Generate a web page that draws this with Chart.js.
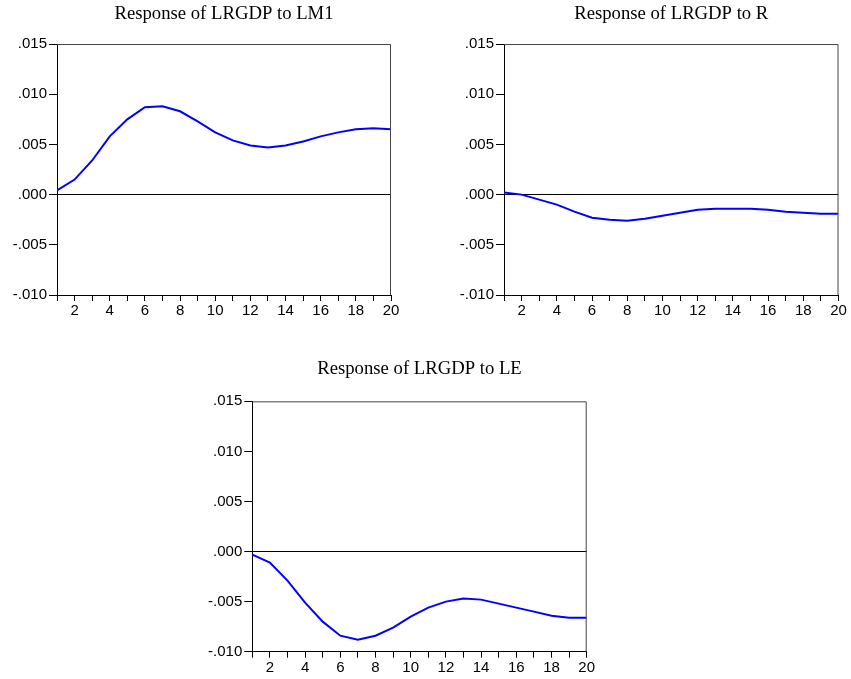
<!DOCTYPE html>
<html>
<head>
<meta charset="utf-8">
<script src="https://cdn.jsdelivr.net/npm/chart.js@4/dist/chart.umd.min.js"></script>
<style>
  body { margin: 0; background: #fff; width: 851px; height: 679px; position: relative; overflow: hidden; }
  canvas { position: absolute; }
</style>
</head>
<body>
<canvas id="c1" width="420" height="320" style="left:0;top:0"></canvas>
<canvas id="c2" width="411" height="320" style="left:440px;top:0"></canvas>
<canvas id="c3" width="420" height="329" style="left:190px;top:350px"></canvas>
<script>
const periods = [1,2,3,4,5,6,7,8,9,10,11,12,13,14,15,16,17,18,19,20];

const respLM1 = [0.00043,0.0015,0.0034,0.0058,0.0075,0.0087,0.0088,0.0083,0.0073,0.0062,
                 0.0054,0.0049,0.0047,0.0049,0.0053,0.0058,0.0062,0.0065,0.0066,0.0065];
const respR = [0.0002,0.0,-0.0005,-0.0010,-0.0017,-0.0023,-0.0025,-0.0026,-0.0024,-0.0021,
               -0.0018,-0.0015,-0.0014,-0.0014,-0.0014,-0.0015,-0.0017,-0.0018,-0.0019,-0.0019];
const respLE = [-0.0003,-0.0011,-0.0029,-0.0051,-0.0070,-0.0084,-0.0088,-0.0084,-0.0076,-0.0065,
                -0.0056,-0.0050,-0.0047,-0.0048,-0.0052,-0.0056,-0.0060,-0.0064,-0.0066,-0.0066];

const titles = ["Response of LRGDP to LM1", "Response of LRGDP to R", "Response of LRGDP to LE"];

// box around the plot area (top and right sides)
const framePlugin = {
  id: "frame",
  afterDraw(chart) {
    const { ctx, chartArea: a } = chart;
    ctx.save();
    ctx.strokeStyle = "#444";
    ctx.lineWidth = 1;
    ctx.beginPath();
    ctx.moveTo(a.left, a.top + 0.5);
    ctx.lineTo(a.right - 0.5, a.top + 0.5);
    ctx.lineTo(a.right - 0.5, a.bottom);
    ctx.stroke();
    ctx.restore();
  },
};

function yLabel(v) {
  if (Math.abs(v) < 1e-9) v = 0;
  return v.toFixed(3).replace("0.", ".");
}

function makeChart(id, title, values, lay) {
  return new Chart(document.getElementById(id), {
    type: "line",
    data: {
      datasets: [{
        data: periods.map((p, i) => ({ x: p, y: values[i] })),
        borderColor: "#0000ff",
        borderWidth: 2,
        pointRadius: 0,
        tension: 0,
        fill: false,
      }],
    },
    options: {
      responsive: false,
      devicePixelRatio: 1,
      animation: false,
      layout: { padding: { left: 0, right: lay.right, top: 0, bottom: 0 } },
      plugins: {
        legend: { display: false },
        tooltip: { enabled: false },
        title: {
          display: true,
          text: title,
          fullSize: false,
          color: "#000",
          font: { family: "'Liberation Serif', 'Times New Roman', serif", size: 18.7, weight: "normal", lineHeight: 1.2 },
          padding: { top: lay.titleTop, bottom: lay.titleBottom },
        },
      },
      scales: {
        x: {
          type: "linear",
          min: 1,
          max: 20,
          ticks: {
            stepSize: 1,
            autoSkip: false,
            maxRotation: 0,
            padding: 1,
            color: "#000",
            font: { family: "'Liberation Sans', Arial, sans-serif", size: 15 },
            callback: (v) => (v % 2 === 0 ? String(v) : ""),
          },
          grid: { drawOnChartArea: false, drawTicks: true, tickLength: 6, tickColor: "#000" },
          border: { display: true, color: "#000", width: 1 },
          afterFit: (s) => { s.height = lay.xHeight; },
        },
        y: {
          min: -0.010,
          max: 0.015,
          ticks: {
            stepSize: 0.005,
            padding: 2,
            color: "#000",
            font: { family: "'Liberation Sans', Arial, sans-serif", size: 15 },
            callback: yLabel,
          },
          grid: {
            drawTicks: true,
            tickLength: 8,
            tickColor: "#000",
            color: (c) => (c.tick && Math.abs(c.tick.value) < 1e-9 ? "#000" : "rgba(0,0,0,0)"),
            lineWidth: 1,
          },
          border: { display: true, color: "#000", width: 1 },
          afterFit: (s) => { s.width = lay.yWidth; },
        },
      },
    },
    plugins: [framePlugin],
  });
}

makeChart("c1", titles[0], respLM1, { right: 29, yWidth: 57, xHeight: 25, titleTop: 3, titleBottom: 18.6 });
makeChart("c2", titles[1], respR, { right: 12.5, yWidth: 64, xHeight: 25, titleTop: 3, titleBottom: 18.6 });
makeChart("c3", titles[2], respLE, { right: 23.3, yWidth: 62.3, xHeight: 27.3, titleTop: 8, titleBottom: 20.9 });
</script>
</body>
</html>
